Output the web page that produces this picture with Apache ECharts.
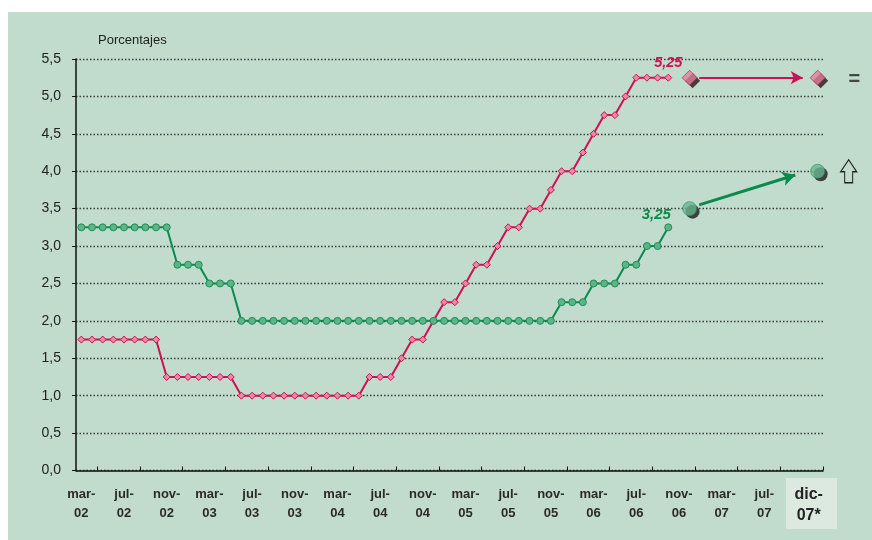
<!DOCTYPE html>
<html>
<head>
<meta charset="utf-8">
<script src="https://cdn.jsdelivr.net/npm/echarts@6/dist/echarts.min.js"></script>
<style>
html, body { margin: 0; padding: 0; background: #fff; }
#grafico { width: 872px; height: 540px; }
</style>
</head>
<body>
<div id="grafico"></div>
<script>
// meses de mar-02 a dic-07
var meses = ['ene', 'feb', 'mar', 'abr', 'may', 'jun', 'jul', 'ago', 'sep', 'oct', 'nov', 'dic'];
var categorias = [];
for (var a = 2002; a <= 2007; a++) {
    for (var m = 0; m < 12; m++) {
        if (a === 2002 && m < 2) continue;
        categorias.push(meses[m] + '-' + String(a).slice(2));
    }
}

// tipos oficiales, fin de mes (mar-02 .. oct-06)
var tipoEEUU = [1.75, 1.75, 1.75, 1.75, 1.75, 1.75, 1.75, 1.75,
    1.25, 1.25, 1.25, 1.25, 1.25, 1.25, 1.25,
    1, 1, 1, 1, 1, 1, 1, 1, 1, 1, 1, 1,
    1.25, 1.25, 1.25, 1.5, 1.75, 1.75, 2, 2.25, 2.25, 2.5, 2.75, 2.75, 3,
    3.25, 3.25, 3.5, 3.5, 3.75, 4, 4, 4.25, 4.5, 4.75, 4.75, 5,
    5.25, 5.25, 5.25, 5.25];
var tipoUEM = [3.25, 3.25, 3.25, 3.25, 3.25, 3.25, 3.25, 3.25, 3.25,
    2.75, 2.75, 2.75, 2.5, 2.5, 2.5,
    2, 2, 2, 2, 2, 2, 2, 2, 2, 2, 2, 2, 2, 2, 2,
    2, 2, 2, 2, 2, 2, 2, 2, 2, 2, 2, 2, 2, 2, 2,
    2.25, 2.25, 2.25, 2.5, 2.5, 2.5, 2.75, 2.75, 3, 3, 3.25];

// previsiones (indice de mes: dic-06 y dic-07)
var mesesPrevision = [57, 69];
var prevEEUU = [5.25, 5.25];
var prevUEM = [3.5, 4.0];
var flechaEEUU = [[58.4, 5.25], [68.1, 5.25]];
var flechaUEM = [[58.4, 3.55], [67.4, 3.95]];

var rojo = '#cc1156';
var verde = '#0b8a4e';

(function(){

var grafico = echarts.init(document.getElementById('grafico'));

var ticksDentro = [];
for (var t = 2; t <= categorias.length; t += 4) ticksDentro.push(t);

function coma(v) { return String(v).replace('.', ','); }

var ultimo = tipoEEUU.length - 1;

function puntos(valores) {
    return mesesPrevision.map(function (m, i) { return [m + 0.5, valores[i]]; });
}

option = {
    animation: false,
    textStyle: { fontFamily: 'Liberation Sans, Arial, sans-serif' },
    graphic: [
        { type: 'rect', z: -20, shape: { x: 8, y: 12, width: 864, height: 528 }, style: { fill: '#c1dccc' } },
        { type: 'rect', z: -10, shape: { x: 786, y: 478, width: 51, height: 51 }, style: { fill: '#dce9e0' } }
    ],
    grid: { left: 76, right: 49, top: 59, bottom: 69.5, containLabel: false },
    xAxis: [
        {
            type: 'category',
            data: categorias,
            boundaryGap: true,
            axisLine: { lineStyle: { color: '#111', width: 1.5 } },
            axisTick: { interval: 3, length: 4, lineStyle: { color: '#111' } },
            axisLabel: {
                interval: function (i) { return (i % 4 === 0 && i < 68) || i === 69; },
                margin: 14,
                color: '#2a2a2a',
                fontSize: 13,
                fontWeight: 'bold',
                lineHeight: 19,
                formatter: function (v, i) {
                    if (i === 69) return '{d|' + v.replace('-', '-\n') + '*}';
                    return v.replace('-', '-\n');
                },
                rich: {
                    d: { fontSize: 16, fontWeight: 'bold', lineHeight: 21, color: '#222', padding: [0, 18, 0, 0] }
                }
            },
            splitLine: { show: false }
        },
        {
            type: 'value',
            min: 0,
            max: categorias.length,
            position: 'bottom',
            axisLine: { show: false },
            axisLabel: { show: false },
            splitLine: { show: false },
            axisTick: { show: true, inside: true, length: 4, customValues: ticksDentro, lineStyle: { color: '#111' } }
        }
    ],
    yAxis: {
        type: 'value',
        min: 0,
        max: 5.5,
        interval: 0.5,
        name: 'Porcentajes',
        nameLocation: 'end',
        nameGap: 12,
        nameTextStyle: { align: 'left', padding: [0, 0, 0, 22], fontSize: 13, color: '#222' },
        axisLine: { show: true, lineStyle: { color: '#111', width: 1.5 } },
        axisTick: { show: true, length: 4, lineStyle: { color: '#111' } },
        axisLabel: { margin: 15, fontSize: 14, color: '#222', formatter: function (v) { return v.toFixed(1).replace('.', ','); } },
        splitLine: { lineStyle: { color: '#3a3a3a', width: 1.3, type: [1.5, 2] } }
    },
    series: [
        {
            name: 'EEUU',
            type: 'line',
            xAxisIndex: 0,
            data: tipoEEUU.map(function (v, i) {
                if (i !== ultimo) return v;
                return { value: v, label: { show: true, position: 'top', distance: 7, offset: [0, 4], formatter: function (p) { return coma(p.value); },
                    color: rojo, fontSize: 14.5, fontWeight: 'bold', fontStyle: 'italic' } };
            }),
            symbol: 'diamond',
            symbolSize: 7,
            showAllSymbol: true,
            lineStyle: { color: rojo, width: 2 },
            itemStyle: { color: '#ec88a4', borderColor: rojo, borderWidth: 1 }
        },
        {
            name: 'UEM',
            type: 'line',
            xAxisIndex: 0,
            data: tipoUEM.map(function (v, i) {
                if (i !== ultimo) return v;
                return { value: v, label: { show: true, position: 'top', distance: 5, offset: [-12, 4], formatter: function (p) { return coma(p.value); },
                    color: verde, fontSize: 15, fontWeight: 'bold', fontStyle: 'italic' } };
            }),
            symbol: 'circle',
            symbolSize: 7,
            showAllSymbol: true,
            lineStyle: { color: verde, width: 2 },
            itemStyle: { color: '#5db487', borderColor: '#1f8f57', borderWidth: 1 }
        },
        // sombras de los marcadores de prevision
        {
            name: 'sombra EEUU',
            type: 'scatter',
            xAxisIndex: 1,
            z: 4,
            silent: true,
            symbol: 'diamond',
            symbolSize: 15,
            symbolOffset: [3, 3],
            data: puntos(prevEEUU),
            itemStyle: { color: '#1a1a1a' }
        },
        {
            name: 'sombra UEM',
            type: 'scatter',
            xAxisIndex: 1,
            z: 4,
            silent: true,
            symbol: 'circle',
            symbolSize: 14,
            symbolOffset: [3, 3],
            data: puntos(prevUEM),
            itemStyle: { color: '#1a1a1a' }
        },
        {
            name: 'Prevision EEUU',
            type: 'scatter',
            xAxisIndex: 1,
            z: 5,
            symbol: 'diamond',
            symbolSize: 15,
            data: puntos(prevEEUU).map(function (p, i) {
                var d = { value: p };
                if (i === mesesPrevision.length - 1) {
                    d.label = { show: true, position: 'right', distance: 23, offset: [0, 2], formatter: '=',
                        fontSize: 20, fontWeight: 'bold', color: '#222' };
                }
                return d;
            }),
            itemStyle: { color: '#e07f9b', borderColor: '#c0104f', borderWidth: 0.8 },
            markLine: {
                silent: true,
                symbol: ['none', 'arrow'],
                symbolSize: [10, 12],
                label: { show: false },
                lineStyle: { color: rojo, width: 2, type: 'solid' },
                data: [[{ coord: flechaEEUU[0] }, { coord: flechaEEUU[1] }]]
            }
        },
        {
            name: 'Prevision UEM',
            type: 'scatter',
            xAxisIndex: 1,
            z: 5,
            symbol: 'circle',
            symbolSize: 14,
            data: puntos(prevUEM),
            itemStyle: { color: '#68b690', borderColor: '#2f8f5f', borderWidth: 0.8 },
            markLine: {
                silent: true,
                symbol: ['none', 'arrow'],
                symbolSize: [11, 13],
                label: { show: false },
                lineStyle: { color: verde, width: 3, type: 'solid' },
                data: [[{ coord: flechaUEM[0] }, { coord: flechaUEM[1] }]]
            },
            markPoint: {
                silent: true,
                label: { show: false },
                data: [{
                    coord: [mesesPrevision[1] + 0.5, prevUEM[1]],
                    symbol: 'path://M8,0 L16,12 L12,12 L12,23 L4,23 L4,12 L0,12 Z',
                    symbolSize: [16, 23],
                    symbolOffset: [31, 0],
                    itemStyle: { color: 'rgba(0,0,0,0)', borderColor: '#222', borderWidth: 1.2 }
                }]
            }
        }
    ]
};

grafico.setOption(option);
})();
</script>
</body>
</html>
